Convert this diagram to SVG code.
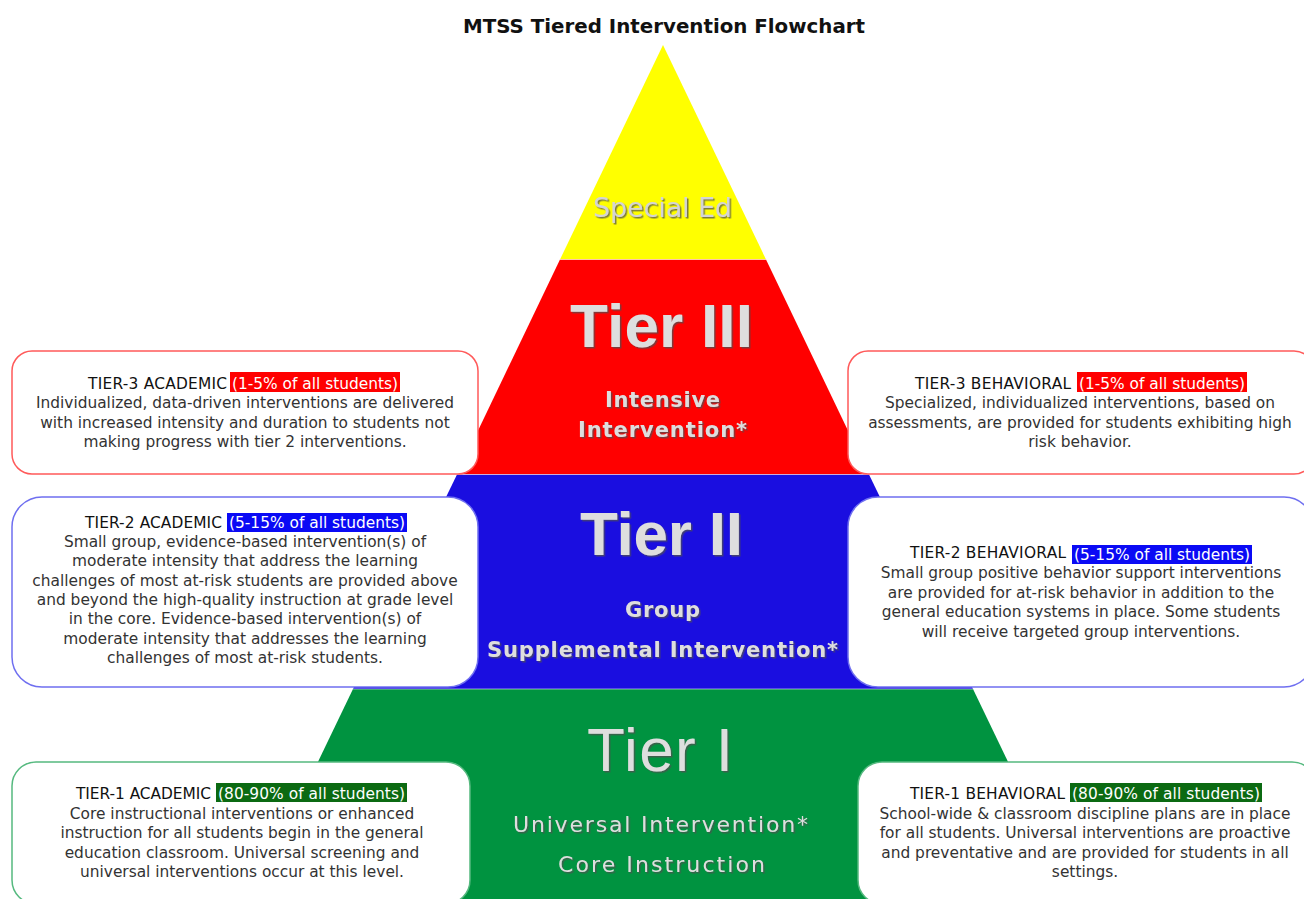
<svg xmlns="http://www.w3.org/2000/svg" width="1304" height="899" viewBox="0 0 1304 899">
<defs>
<filter id="sh" x="-10%" y="-20%" width="130%" height="150%">
<feDropShadow dx="1.5" dy="1.5" stdDeviation="0.7" flood-color="#505050" flood-opacity="0.75"/>
</filter>
<style>
.title{font-family:"DejaVu Sans",sans-serif;font-weight:bold;font-size:19px;fill:#111}
.big{font-family:"Liberation Sans",Arial,sans-serif;font-size:62px;fill:#dedede;filter:url(#sh)}
.bigb{font-weight:bold}
.lab{font-family:"DejaVu Sans",sans-serif;font-size:21px;fill:#dedede;filter:url(#sh)}
.labb{font-weight:bold}
.box{fill:#fff;stroke-width:1.5}
.b3{stroke:#ff5a5a}
.b2{stroke:#6f6ff0}
.b1{stroke:#55b97f}
.hd{font-family:"DejaVu Sans",sans-serif;font-size:15.4px;fill:#111}
.hl{font-family:"DejaVu Sans",sans-serif;font-size:15.4px;fill:#fff}
.tx{font-family:"DejaVu Sans",sans-serif;font-size:15.4px;fill:#333;text-anchor:middle}
.sep{stroke:#ffffff;stroke-opacity:0.55;stroke-width:1.2}
</style>
</defs>
<rect width="1304" height="899" fill="#ffffff"/>
<text class="title" x="463" y="33" textLength="402" lengthAdjust="spacingAndGlyphs">MTSS Tiered Intervention Flowchart</text>

<g id="tier-special-ed">
<polygon points="663,45 560,259.5 766,259.5" fill="#ffff00"/>
<text class="lab" x="593" y="217" style="font-size:27px;fill:#d4d4d4" textLength="139">Special Ed</text>
</g>
<g id="tier-3">
<polygon points="560,259.5 766,259.5 869,474.5 457,474.5" fill="#ff0000"/>
<text class="big bigb" x="570" y="347" textLength="183">Tier III</text>
<text class="lab labb" x="605" y="407" textLength="115">Intensive</text>
<text class="lab labb" x="578" y="437" textLength="169">Intervention*</text>
</g>
<g id="tier-2">
<polygon points="457,474.5 869,474.5 973,689 353,689" fill="#1a0ee0"/>
<text class="big bigb" x="580" y="555" textLength="163">Tier II</text>
<text class="lab labb" x="625" y="617" textLength="75">Group</text>
<text class="lab labb" x="487" y="657" textLength="351">Supplemental Intervention*</text>
</g>
<g id="tier-1">
<polygon points="353,689 973,689 1074,899 252,899" fill="#009340"/>
<text class="big" x="587" y="771" textLength="146">Tier I</text>
<text class="lab" x="513" y="832" style="font-size:22px" textLength="295">Universal Intervention*</text>
<text class="lab" x="558" y="872" style="font-size:22px" textLength="207">Core Instruction</text>
</g>
<g id="tier-separators">
<line class="sep" x1="560" y1="259.5" x2="766" y2="259.5"/>
<line class="sep" x1="457" y1="474.5" x2="869" y2="474.5"/>
<line class="sep" x1="353" y1="689" x2="973" y2="689"/>
</g>

<g id="box-t3-academic">
<rect class="box b3" x="12" y="351" width="466" height="123" rx="20"/>
<text class="hd" x="88" y="389" textLength="139">TIER-3 ACADEMIC</text>
<rect x="230" y="372" width="170" height="20" fill="#ff0000"/>
<text class="hl" x="232" y="389" textLength="166">(1-5% of all students)</text>
<text class="tx" x="245" y="408">Individualized, data-driven interventions are delivered</text>
<text class="tx" x="245" y="428">with increased intensity and duration to students not</text>
<text class="tx" x="245" y="447">making progress with tier 2 interventions.</text>
</g>
<g id="box-t3-behavioral">
<rect class="box b3" x="848" y="351" width="466" height="123" rx="20"/>
<text class="hd" x="915" y="389" textLength="156">TIER-3 BEHAVIORAL</text>
<rect x="1077" y="372" width="170" height="20" fill="#ff0000"/>
<text class="hl" x="1079" y="389" textLength="166">(1-5% of all students)</text>
<text class="tx" x="1080" y="408">Specialized, individualized interventions, based on</text>
<text class="tx" x="1080" y="428">assessments, are provided for students exhibiting high</text>
<text class="tx" x="1080" y="447">risk behavior.</text>
</g>
<g id="box-t2-academic">
<rect class="box b2" x="12" y="497" width="466" height="190" rx="30"/>
<text class="hd" x="85" y="528" textLength="137">TIER-2 ACADEMIC</text>
<rect x="227" y="513" width="180" height="19" fill="#0a0af5"/>
<text class="hl" x="229" y="528" textLength="176">(5-15% of all students)</text>
<text class="tx" x="245" y="547">Small group, evidence-based intervention(s) of</text>
<text class="tx" x="245" y="566">moderate intensity that address the learning</text>
<text class="tx" x="245" y="586">challenges of most at-risk students are provided above</text>
<text class="tx" x="245" y="605">and beyond the high-quality instruction at grade level</text>
<text class="tx" x="245" y="624">in the core. Evidence-based intervention(s) of</text>
<text class="tx" x="245" y="644">moderate intensity that addresses the learning</text>
<text class="tx" x="245" y="663">challenges of most at-risk students.</text>
</g>
<g id="box-t2-behavioral">
<rect class="box b2" x="848" y="497" width="466" height="190" rx="30"/>
<text class="hd" x="910" y="558" textLength="156">TIER-2 BEHAVIORAL</text>
<rect x="1072" y="545" width="180" height="19" fill="#0a0af5"/>
<text class="hl" x="1074" y="560" textLength="176">(5-15% of all students)</text>
<text class="tx" x="1081" y="578">Small group positive behavior support interventions</text>
<text class="tx" x="1081" y="598">are provided for at-risk behavior in addition to the</text>
<text class="tx" x="1081" y="617">general education systems in place. Some students</text>
<text class="tx" x="1081" y="637">will receive targeted group interventions.</text>
</g>
<g id="box-t1-academic">
<rect class="box b1" x="12" y="762" width="458" height="142" rx="24"/>
<text class="hd" x="76" y="799" textLength="135">TIER-1 ACADEMIC</text>
<rect x="216" y="783" width="191" height="19" fill="#0b6a12"/>
<text class="hl" x="218" y="799" textLength="187">(80-90% of all students)</text>
<text class="tx" x="242" y="819">Core instructional interventions or enhanced</text>
<text class="tx" x="242" y="838">instruction for all students begin in the general</text>
<text class="tx" x="242" y="858">education classroom. Universal screening and</text>
<text class="tx" x="242" y="877">universal interventions occur at this level.</text>
</g>
<g id="box-t1-behavioral">
<rect class="box b1" x="858" y="762" width="458" height="142" rx="24"/>
<text class="hd" x="910" y="799" textLength="155">TIER-1 BEHAVIORAL</text>
<rect x="1070" y="783" width="192" height="19" fill="#0b6a12"/>
<text class="hl" x="1072" y="799" textLength="188">(80-90% of all students)</text>
<text class="tx" x="1085" y="819">School-wide &amp; classroom discipline plans are in place</text>
<text class="tx" x="1085" y="838">for all students. Universal interventions are proactive</text>
<text class="tx" x="1085" y="858">and preventative and are provided for students in all</text>
<text class="tx" x="1085" y="877">settings.</text>
</g>
<g id="connectors"></g>
</svg>
